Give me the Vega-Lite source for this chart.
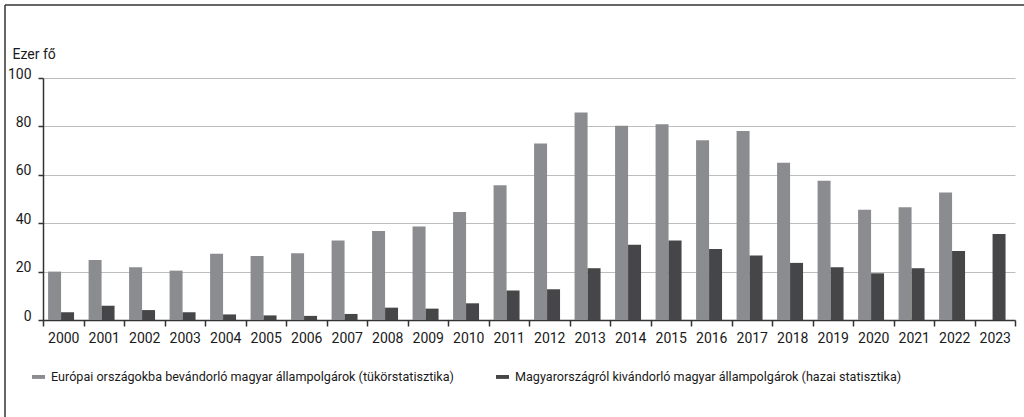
{
  "$schema": "https://vega.github.io/schema/vega-lite/v6.json",
  "width": 1019,
  "height": 412,
  "autosize": {"type": "none"},
  "padding": {"left": 5, "top": 5, "right": 0, "bottom": 0},
  "background": "white",
  "config": {"view": {"stroke": null}, "font": "Roboto"},
  "datasets": {
    "bars": [
      {"year": "2000", "series": "Európai országokba bevándorló magyar állampolgárok (tükörstatisztika)", "value": 20.0},
      {"year": "2001", "series": "Európai országokba bevándorló magyar állampolgárok (tükörstatisztika)", "value": 24.8},
      {"year": "2002", "series": "Európai országokba bevándorló magyar állampolgárok (tükörstatisztika)", "value": 21.8},
      {"year": "2003", "series": "Európai országokba bevándorló magyar állampolgárok (tükörstatisztika)", "value": 20.4},
      {"year": "2004", "series": "Európai országokba bevándorló magyar állampolgárok (tükörstatisztika)", "value": 27.4},
      {"year": "2005", "series": "Európai országokba bevándorló magyar állampolgárok (tükörstatisztika)", "value": 26.4},
      {"year": "2006", "series": "Európai országokba bevándorló magyar állampolgárok (tükörstatisztika)", "value": 27.6},
      {"year": "2007", "series": "Európai országokba bevándorló magyar állampolgárok (tükörstatisztika)", "value": 32.9},
      {"year": "2008", "series": "Európai országokba bevándorló magyar állampolgárok (tükörstatisztika)", "value": 36.8},
      {"year": "2009", "series": "Európai országokba bevándorló magyar állampolgárok (tükörstatisztika)", "value": 38.6},
      {"year": "2010", "series": "Európai országokba bevándorló magyar állampolgárok (tükörstatisztika)", "value": 44.6},
      {"year": "2011", "series": "Európai országokba bevándorló magyar állampolgárok (tükörstatisztika)", "value": 55.7},
      {"year": "2012", "series": "Európai országokba bevándorló magyar állampolgárok (tükörstatisztika)", "value": 72.9},
      {"year": "2013", "series": "Európai országokba bevándorló magyar állampolgárok (tükörstatisztika)", "value": 85.7},
      {"year": "2014", "series": "Európai országokba bevándorló magyar állampolgárok (tükörstatisztika)", "value": 80.3},
      {"year": "2015", "series": "Európai országokba bevándorló magyar állampolgárok (tükörstatisztika)", "value": 80.9},
      {"year": "2016", "series": "Európai országokba bevándorló magyar állampolgárok (tükörstatisztika)", "value": 74.3},
      {"year": "2017", "series": "Európai országokba bevándorló magyar állampolgárok (tükörstatisztika)", "value": 78.1},
      {"year": "2018", "series": "Európai országokba bevándorló magyar állampolgárok (tükörstatisztika)", "value": 65.0},
      {"year": "2019", "series": "Európai országokba bevándorló magyar állampolgárok (tükörstatisztika)", "value": 57.5},
      {"year": "2020", "series": "Európai országokba bevándorló magyar állampolgárok (tükörstatisztika)", "value": 45.6},
      {"year": "2021", "series": "Európai országokba bevándorló magyar állampolgárok (tükörstatisztika)", "value": 46.6},
      {"year": "2022", "series": "Európai országokba bevándorló magyar állampolgárok (tükörstatisztika)", "value": 52.7},
      {"year": "2000", "series": "Magyarországról kivándorló magyar állampolgárok (hazai statisztika)", "value": 3.2},
      {"year": "2001", "series": "Magyarországról kivándorló magyar állampolgárok (hazai statisztika)", "value": 5.9},
      {"year": "2002", "series": "Magyarországról kivándorló magyar állampolgárok (hazai statisztika)", "value": 4.1},
      {"year": "2003", "series": "Magyarországról kivándorló magyar állampolgárok (hazai statisztika)", "value": 3.2},
      {"year": "2004", "series": "Magyarországról kivándorló magyar állampolgárok (hazai statisztika)", "value": 2.3},
      {"year": "2005", "series": "Magyarországról kivándorló magyar állampolgárok (hazai statisztika)", "value": 1.9},
      {"year": "2006", "series": "Magyarországról kivándorló magyar állampolgárok (hazai statisztika)", "value": 1.7},
      {"year": "2007", "series": "Magyarországról kivándorló magyar állampolgárok (hazai statisztika)", "value": 2.5},
      {"year": "2008", "series": "Magyarországról kivándorló magyar állampolgárok (hazai statisztika)", "value": 5.1},
      {"year": "2009", "series": "Magyarországról kivándorló magyar állampolgárok (hazai statisztika)", "value": 4.7},
      {"year": "2010", "series": "Magyarországról kivándorló magyar állampolgárok (hazai statisztika)", "value": 6.9},
      {"year": "2011", "series": "Magyarországról kivándorló magyar állampolgárok (hazai statisztika)", "value": 12.2},
      {"year": "2012", "series": "Magyarországról kivándorló magyar állampolgárok (hazai statisztika)", "value": 12.7},
      {"year": "2013", "series": "Magyarországról kivándorló magyar állampolgárok (hazai statisztika)", "value": 21.4},
      {"year": "2014", "series": "Magyarországról kivándorló magyar állampolgárok (hazai statisztika)", "value": 31.1},
      {"year": "2015", "series": "Magyarországról kivándorló magyar állampolgárok (hazai statisztika)", "value": 32.8},
      {"year": "2016", "series": "Magyarországról kivándorló magyar állampolgárok (hazai statisztika)", "value": 29.3},
      {"year": "2017", "series": "Magyarországról kivándorló magyar állampolgárok (hazai statisztika)", "value": 26.7},
      {"year": "2018", "series": "Magyarországról kivándorló magyar állampolgárok (hazai statisztika)", "value": 23.6},
      {"year": "2019", "series": "Magyarországról kivándorló magyar állampolgárok (hazai statisztika)", "value": 21.8},
      {"year": "2020", "series": "Magyarországról kivándorló magyar állampolgárok (hazai statisztika)", "value": 19.3},
      {"year": "2021", "series": "Magyarországról kivándorló magyar állampolgárok (hazai statisztika)", "value": 21.4},
      {"year": "2022", "series": "Magyarországról kivándorló magyar állampolgárok (hazai statisztika)", "value": 28.5},
      {"year": "2023", "series": "Magyarországról kivándorló magyar állampolgárok (hazai statisztika)", "value": 35.5}
    ],
    "frame": [{"edge": 1}]
  },
  "layer": [
    {
      "data": {"name": "bars"},
      "mark": {"type": "bar"},
      "encoding": {
        "x": {
          "field": "year", "type": "nominal",
          "scale": {"range": [38, 1010], "paddingInner": 0, "paddingOuter": 0},
          "axis": {
            "orient": "bottom", "offset": -97, "tickBand": "extent", "labelAngle": 0,
            "domainColor": "#333333", "domainWidth": 1.5,
            "tickColor": "#333333", "tickWidth": 1.5, "tickSize": 6,
            "labelFont": "Roboto", "labelFontSize": 14, "labelColor": "#1a1a1a", "labelPadding": 5,
            "title": null, "grid": false
          }
        },
        "xOffset": {
          "field": "series", "type": "nominal",
          "scale": {
            "domain": ["Európai országokba bevándorló magyar állampolgárok (tükörstatisztika)", "Magyarországról kivándorló magyar állampolgárok (hazai statisztika)"],
            "paddingInner": 0, "paddingOuter": 0.56, "align": 0.35
          }
        },
        "y": {
          "field": "value", "type": "quantitative",
          "scale": {"domain": [0, 100], "range": [315, 73], "nice": false, "zero": true},
          "axis": {
            "offset": -38, "values": [0, 20, 40, 60, 80, 100], "grid": true,
            "gridColor": "#bdbdbd", "gridWidth": 1,
            "domainColor": "#333333", "domainWidth": 1.5,
            "tickColor": "#333333", "tickWidth": 1.5, "tickSize": 5,
            "labelFont": "Roboto", "labelFontSize": 14, "labelColor": "#1a1a1a",
            "labelPadding": 7, "labelBaseline": "alphabetic",
            "title": "Ezer fő", "titleAngle": 0, "titleAlign": "left", "titleBaseline": "alphabetic",
            "titleX": -31, "titleY": 53, "titleFont": "Roboto", "titleFontWeight": "normal",
            "titleFontSize": 14, "titleColor": "#1a1a1a"
          }
        },
        "color": {
          "field": "series", "type": "nominal",
          "scale": {
            "domain": ["Európai országokba bevándorló magyar állampolgárok (tükörstatisztika)", "Magyarországról kivándorló magyar állampolgárok (hazai statisztika)"],
            "range": ["#8b8c8f", "#464648"]
          },
          "legend": {
            "orient": "none", "legendX": 27, "legendY": 365, "direction": "horizontal", "columns": 2,
            "title": null, "symbolType": "M-1,-0.3L1,-0.3L1,0.3L-1,0.3Z", "symbolSize": 169,
            "symbolStrokeWidth": 0, "labelFont": "Roboto", "labelFontSize": 12.6, "labelColor": "#1a1a1a",
            "labelOffset": 6, "columnPadding": 42, "labelLimit": 1000
          }
        }
      }
    },
    {
      "data": {"name": "frame"},
      "mark": {"type": "rule", "color": "#333333", "strokeWidth": 1.5},
      "encoding": {
        "y": {"field": "edge", "type": "quantitative", "scale": {"domain": [0, 1]}, "axis": null}
      }
    },
    {
      "data": {"name": "frame"},
      "mark": {"type": "rule", "color": "#333333", "strokeWidth": 1.5},
      "encoding": {
        "x": {"field": "edge", "type": "quantitative", "scale": {"domain": [1, 2]}, "axis": null}
      }
    }
  ],
  "resolve": {"scale": {"x": "independent", "y": "independent", "color": "independent"}}
}
